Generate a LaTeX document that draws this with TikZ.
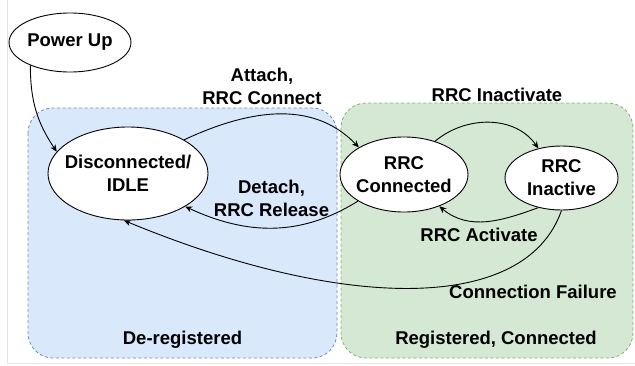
\documentclass[tikz,border=0pt]{standalone}
\usepackage{fontspec}
\setmainfont{Liberation Sans}
\usepackage{tikz}
\usetikzlibrary{shapes.geometric}
\usetikzlibrary{arrows.meta}

\definecolor{deregfill}{HTML}{DAE8FC}
\definecolor{deregline}{HTML}{6C8EBF}
\definecolor{regfill}{HTML}{D5E8D4}
\definecolor{regline}{HTML}{82B366}

\tikzset{
    state/.style = {draw, ellipse, fill=white, align=center, inner xsep=-12pt, inner ysep=0pt, line width=0.9pt},
    lbl/.style = {align=center, inner sep=0pt},
    trans/.style = {line width=0.9pt, arrows = {-Stealth[width=6pt, length=7pt]}},
    zone/.style = {rounded corners=25pt, line width=0.8pt, dash pattern=on 3pt off 2.5pt},
}

\begin{document}
\begin{tikzpicture}[x=1pt, y=1pt, font=\bfseries\fontsize{18.5}{23}\selectfont]
    \useasboundingbox[fill=white] (0, 0) rectangle (635, -365);
    \draw[gray!20, line width=1pt] (7, 0) -- (7, -363) -- (635, -363);

    % the two zones
    \draw[zone, draw=deregline, fill=deregfill] (28, -108) rectangle (337, -358);
    \draw[zone, draw=regline, fill=regfill] (341, -103) rectangle (633, -358);
    \node[lbl] (dereg) at (182.5, -340) {De-registered};
    \node[lbl] (regcon) at (496, -340) {Registered, Connected};

    % states
    \node[state, minimum width=122pt, minimum height=59pt] (pwr) at (70, -42.5) {Power Up};
    \node[state, minimum width=160pt, minimum height=93pt] (dis) at (128, -173.5) {Disconnected/\\IDLE};
    \node[state, minimum width=128pt, minimum height=75pt] (con) at (404, -174.5) {RRC\\Connected};
    \node[state, minimum width=113pt, minimum height=64pt] (ina) at (561.5, -178) {RRC\\Inactive};

    % transitions
    \node[lbl] (attach) at (262, -86) {Attach,\\RRC Connect};
    \node[lbl] (inact) at (497, -95) {RRC Inactivate};
    \node[lbl] (detach) at (271.5, -198.5) {Detach,\\RRC Release};
    \node[lbl] (activ) at (479, -235) {RRC Activate};
    \node[lbl] (fail) at (533, -292) {Connection Failure};

    \draw[trans] (pwr.210) to[out=-90, in=124] (dis.163);
    \draw[trans] (dis.31) to[out=25, in=134] (con.149);
    \draw[trans] (con.47) to[out=40, in=125] (ina.128);
    \draw[trans] (ina.232) to[out=200, in=-40] (con.-42);
    \draw[trans] (con.210) to[out=212, in=-25] (dis.-30);
    \draw[trans] (ina.-90) .. controls (525, -315) and (340, -310) .. (dis.-95);
\end{tikzpicture}
\end{document}
